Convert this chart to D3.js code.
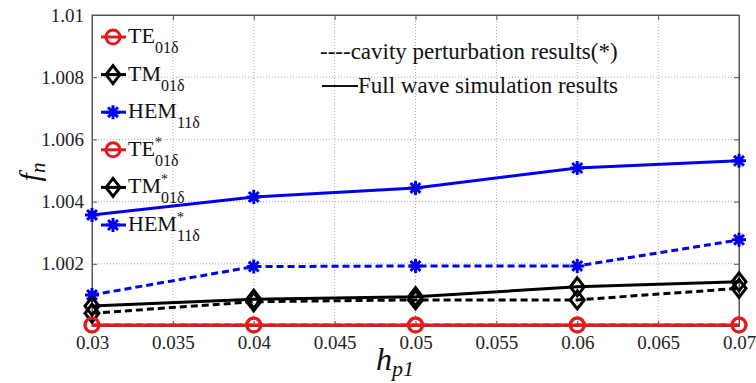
<!DOCTYPE html>
<html>
<head>
<meta charset="utf-8">
<script src="https://cdn.jsdelivr.net/npm/d3@7"></script>
<style>
  body { margin: 0; background: #fff; }
  svg text, svg tspan { font-family: "Times New Roman", "Liberation Serif", serif !important; }
</style>
</head>
<body>
<div id="chart"></div>
<script>
// values
const hp1 = [0.03, 0.04, 0.05, 0.06, 0.07];
const teFull = [1.00003, 1.00003, 1.00003, 1.00003, 1.00003];
const tmFull = [1.00064, 1.00086, 1.00094, 1.00126, 1.00142];
const hemFull = [1.00357, 1.00415, 1.00444, 1.00508, 1.00531];
const teCav = [1.00003, 1.00003, 1.00003, 1.00003, 1.00003];
const tmCav = [1.00041, 1.00078, 1.00084, 1.00084, 1.00121];
const hemCav = [1.00100, 1.00191, 1.00193, 1.00193, 1.00277];
const xTicks = [0.03, 0.035, 0.04, 0.045, 0.05, 0.055, 0.06, 0.065, 0.07];
const yTicks = [1.002, 1.004, 1.006, 1.008, 1.01];

const width = 756, height = 383;
const margin = { left: 92, right: 17, top: 15, bottom: 57 };
const w = width - margin.left - margin.right;
const h = height - margin.top - margin.bottom;

const x = d3.scaleLinear().domain([0.03, 0.07]).range([0, w]);
const y = d3.scaleLinear().domain([1, 1.01]).range([h, 0]);

const svg = d3.select('#chart').append('svg')
  .attr('width', width)
  .attr('height', height);

const g = svg.append('g')
  .attr('transform', `translate(${margin.left},${margin.top})`);

// dotted grid
g.append('g').selectAll('line')
  .data(xTicks.slice(1, -1))
  .join('line')
  .attr('x1', d => x(d)).attr('x2', d => x(d))
  .attr('y1', 0).attr('y2', h)
  .attr('stroke', '#aaa').attr('stroke-dasharray', '1,2');

g.append('g').selectAll('line')
  .data(yTicks.slice(0, -1))
  .join('line')
  .attr('x1', 0).attr('x2', w)
  .attr('y1', d => y(d)).attr('y2', d => y(d))
  .attr('stroke', '#aaa').attr('stroke-dasharray', '1,2');

g.append('rect')
  .attr('width', w).attr('height', h)
  .attr('fill', 'none').attr('stroke', '#555');

// axes, ticks pointing inward on all four sides
const fmt = d => String(+d.toFixed(3));
const axes = [
  g.append('g').attr('transform', `translate(0,${h})`)
    .call(d3.axisBottom(x).tickValues(xTicks).tickSizeInner(-5).tickSizeOuter(0).tickPadding(10).tickFormat(fmt)),
  g.append('g')
    .call(d3.axisLeft(y).tickValues(yTicks).tickSizeInner(-5).tickSizeOuter(0).tickPadding(8).tickFormat(fmt)),
  g.append('g')
    .call(d3.axisTop(x).tickValues(xTicks).tickSizeInner(-5).tickSizeOuter(0).tickFormat('')),
  g.append('g').attr('transform', `translate(${w},0)`)
    .call(d3.axisRight(y).tickValues(yTicks).tickSizeInner(-5).tickSizeOuter(0).tickFormat(''))
];
axes.forEach(a => {
  a.attr('font-family', null).attr('font-size', 19);
  a.select('.domain').attr('stroke', '#555');
  a.selectAll('.tick line').attr('stroke', '#555');
  a.selectAll('text').attr('fill', '#222');
});

function drawMarker(sel, type, color) {
  if (type === 'circle') {
    sel.append('circle').attr('r', 7)
      .attr('fill', 'none').attr('stroke', color).attr('stroke-width', 3);
  } else if (type === 'diamond') {
    sel.append('path').attr('d', 'M0,-9L7,0L0,9L-7,0Z')
      .attr('fill', 'none').attr('stroke', color).attr('stroke-width', 3);
  } else {
    const r = 7;
    sel.append('path')
      .attr('d', d3.range(4).map(i => {
        const a = i * Math.PI / 4;
        return `M${-r * Math.cos(a)},${-r * Math.sin(a)}L${r * Math.cos(a)},${r * Math.sin(a)}`;
      }).join(''))
      .attr('stroke', color).attr('stroke-width', 3);
  }
}

const series = [
  { name: 'TE', sub: '01δ', star: false, vals: teFull, color: '#e41a1c', marker: 'circle', dash: null },
  { name: 'TM', sub: '01δ', star: false, vals: tmFull, color: '#000', marker: 'diamond', dash: null },
  { name: 'HEM', sub: '11δ', star: false, vals: hemFull, color: '#0000f0', marker: 'star', dash: null },
  { name: 'TE', sub: '01δ', star: true, vals: teCav, color: '#e41a1c', marker: 'circle', dash: '7,4' },
  { name: 'TM', sub: '01δ', star: true, vals: tmCav, color: '#000', marker: 'diamond', dash: '7,4' },
  { name: 'HEM', sub: '11δ', star: true, vals: hemCav, color: '#0000f0', marker: 'star', dash: '7,4' }
];

const line = d3.line().x(d => x(d[0])).y(d => y(d[1]));

[3, 4, 5, 0, 1, 2].forEach(i => {
  const s = series[i];
  const pts = hp1.map((v, j) => [v, s.vals[j]]);
  g.append('path').datum(pts)
    .attr('d', line)
    .attr('fill', 'none')
    .attr('stroke', s.color)
    .attr('stroke-width', 3)
    .attr('stroke-dasharray', s.dash);
  pts.forEach(p => {
    drawMarker(g.append('g').attr('transform', `translate(${x(p[0])},${y(p[1])})`), s.marker, s.color);
  });
});

// legend without a frame
const legend = svg.append('g').attr('transform', 'translate(113,37)');
series.forEach((s, i) => {
  const row = legend.append('g').attr('transform', `translate(0,${i * 37.6})`);
  row.append('line').attr('x1', -12).attr('x2', 13)
    .attr('stroke', s.color).attr('stroke-width', 3);
  drawMarker(row, s.marker, s.color);
  const t = row.append('text')
    .attr('x', 15).attr('y', 6)
    .attr('font-size', 22).attr('fill', '#111');
  t.append('tspan').text(s.name);
  if (s.star) {
    t.append('tspan').attr('dy', -9).attr('font-size', 14).text('*');
    t.append('tspan').attr('dx', -7).attr('dy', 19).attr('font-size', 16).text(s.sub);
  } else {
    t.append('tspan').attr('dy', 10).attr('font-size', 16).text(s.sub);
  }
});

svg.append('text')
  .attr('x', 320).attr('y', 59)
  .attr('font-size', 23).attr('fill', '#111')
  .text('----cavity perturbation results(*)');
svg.append('line')
  .attr('x1', 322).attr('x2', 358).attr('y1', 86).attr('y2', 86)
  .attr('stroke', '#111').attr('stroke-width', 2);
svg.append('text')
  .attr('x', 358).attr('y', 93)
  .attr('font-size', 23).attr('fill', '#111')
  .text('Full wave simulation results');

const fLabel = svg.append('text')
  .attr('transform', 'translate(40,172) rotate(-90)')
  .attr('text-anchor', 'middle')
  .attr('font-size', 30).attr('font-style', 'italic').attr('fill', '#111');
fLabel.append('tspan').text('f');
fLabel.append('tspan').attr('dy', 5).attr('font-size', 21).text('n');

const hLabel = svg.append('text')
  .attr('x', 395).attr('y', 370)
  .attr('text-anchor', 'middle')
  .attr('font-size', 32).attr('font-style', 'italic').attr('fill', '#111');
hLabel.append('tspan').text('h');
hLabel.append('tspan').attr('dy', 6).attr('font-size', 22).text('p1');
</script>
</body>
</html>
